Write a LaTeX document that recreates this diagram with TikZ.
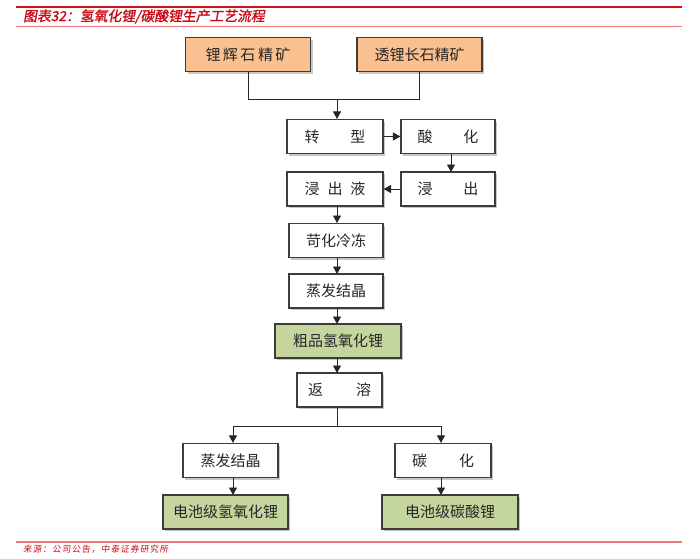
\documentclass[tikz,border=0pt]{standalone}
\usepackage{fontspec}
\setmainfont{Noto Sans CJK SC}
\newfontfamily\cjkbold[FakeSlant=0.18,FakeBold=1.5]{Noto Sans CJK SC}
\newfontfamily\cjksrc[FakeSlant=0.12,LetterSpace=12]{Noto Sans CJK SC}
\usetikzlibrary{arrows.meta,shadows,calc}
\definecolor{orefill}{RGB}{250,192,143}
\definecolor{greenfill}{RGB}{196,214,158}
\definecolor{boxline}{RGB}{60,60,60}
\definecolor{titlered}{RGB}{200,10,20}
\definecolor{linered}{RGB}{205,20,25}
\definecolor{lightred}{RGB}{236,120,120}
\tikzset{
  box/.style={draw=boxline,line width=1.1pt,fill=white,minimum height=34pt,
    inner sep=0pt,font=\fontsize{15}{17}\selectfont,text=black!85,
    drop shadow={shadow xshift=2pt,shadow yshift=-2pt,fill=black!40,opacity=0.55}},
  orebox/.style={box,fill=orefill},
  greenbox/.style={box,fill=greenfill},
  conn/.style={draw=black!85,line width=0.9pt},
  arr/.style={conn,-{Triangle[length=7.5pt,width=8pt]}}
}
\begin{document}
\begin{tikzpicture}[x=1pt,y=-1pt]
\useasboundingbox (0,0) rectangle (700,558);
% header and footer
\draw[linered,line width=2pt] (16,6.5) -- (682,6.5);
\draw[lightred,line width=1pt] (16,26) -- (682,26);
\node[anchor=west,inner sep=0pt,text=titlered,font=\cjkbold\fontsize{13.8}{15}\selectfont] (title) at (23,16.5) {图表32：氢氧化锂/碳酸锂生产工艺流程};
\draw[lightred,line width=1.2pt] (16,542) -- (682,542);
\node[anchor=west,inner sep=0pt,text=titlered,font=\cjksrc\fontsize{8.7}{10}\selectfont] (src) at (23,549.5) {来源：公司公告，中泰证券研究所};
% boxes
\node[orebox,minimum width=125pt] (ore1) at (248,54.5) {锂\hspace{2.5pt}辉\hspace{2.5pt}石\hspace{2.5pt}精\hspace{2.5pt}矿};
\node[orebox,minimum width=125pt] (ore2) at (419.5,54.5) {透锂长石精矿};
\node[box,minimum width=96pt] (zx) at (335,136.5) {转\hspace{31pt}型};
\node[box,minimum width=94pt] (sh) at (448,136.5) {酸\hspace{31pt}化};
\node[box,minimum width=96pt] (jcy) at (335,189) {浸\hspace{8pt}出\hspace{8pt}液};
\node[box,minimum width=94pt] (jc) at (448,189) {浸\hspace{31pt}出};
\node[box,minimum width=94pt] (kh) at (336,240.5) {苛化冷冻};
\node[box,minimum width=94pt] (zf) at (336,291) {蒸发结晶};
\node[greenbox,minimum width=126pt] (cp) at (338,341) {粗品氢氧化锂};
\node[box,minimum width=85pt] (fr) at (339.5,390) {返\hspace{33pt}溶};
\node[box,minimum width=95pt] (zf2) at (230.5,460.5) {蒸发结晶};
\node[box,minimum width=96pt] (th) at (443,460.5) {碳\hspace{32pt}化};
\node[greenbox,minimum width=125pt] (dc1) at (225.5,512) {电池级氢氧化锂};
\node[greenbox,minimum width=136pt] (dc2) at (450,512) {电池级碳酸锂};
% connectors
\coordinate (j1) at (337,99);
\draw[conn] (ore1.south) |- (j1);
\draw[conn] (ore2.south) |- (j1);
\draw[arr] (j1) -- (j1 |- zx.north);
\draw[arr] (zx.east) -- (sh.west);
\draw[arr] (451,154) -- (451,172);
\draw[arr] (jc.west) -- (jcy.east);
\draw[arr] (337,206) -- (337,223);
\draw[arr] (337,258) -- (337,274);
\draw[arr] (337,308) -- (337,324);
\draw[arr] (337,358) -- (337,373);
\coordinate (j2) at (337,426);
\draw[conn] (337,407) -- (j2);
\coordinate (jl) at (233,426);
\coordinate (jr) at (441,426);
\draw[conn] (jl) -- (jr);
\draw[arr] (jl) -- (jl |- zf2.north);
\draw[arr] (jr) -- (jr |- th.north);
\draw[arr] (233,478) -- (233,495);
\draw[arr] (441,478) -- (441,495);
\end{tikzpicture}
\end{document}
